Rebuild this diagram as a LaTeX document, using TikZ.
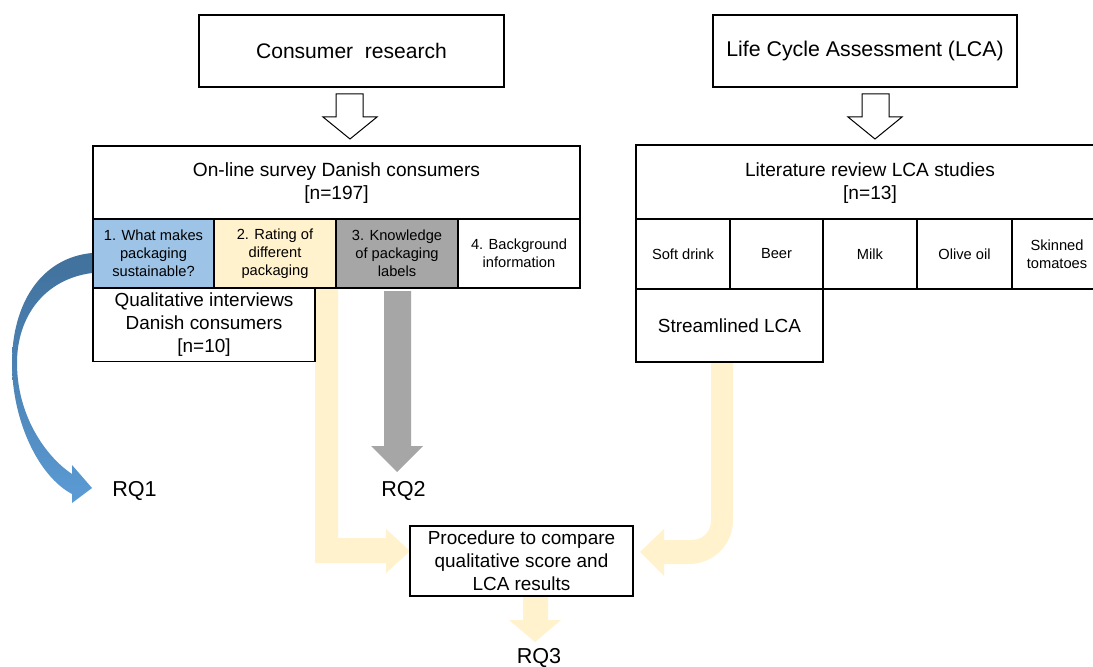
\documentclass[tikz,border=0pt]{standalone}
\usepackage{fontspec}
\setmainfont{Liberation Sans}
\usetikzlibrary{calc}
\definecolor{cellblue}{HTML}{9DC3E6}
\definecolor{cellyel}{HTML}{FFF2CC}
\definecolor{cellgray}{HTML}{A6A6A6}
\definecolor{arrdark}{HTML}{41719C}
\definecolor{arrlight}{HTML}{5B9BD5}
\tikzset{
  bx/.style={draw=black, line width=0.9pt, fill=white, inner sep=0pt, align=center},
  fbig/.style={font=\fontsize{15.8}{19}\selectfont},
  flca/.style={font=\fontsize{16}{19}\selectfont},
  fmid/.style={font=\fontsize{14.35}{17}\selectfont},
  fint/.style={font=\fontsize{14.2}{17.25}\selectfont},
  fsml/.style={font=\fontsize{11}{13.5}\selectfont},
  yelarrow/.style={fill=cellyel, draw=none},
  grayarrow/.style={fill=cellgray, draw=none},
  hollowarrow/.style={draw=black, line width=0.75pt, fill=white},
  rqlabel/.style={inner sep=0pt, font=\fontsize{16.2}{18}\selectfont},
}
\begin{document}
\begin{tikzpicture}[x=0.75pt,y=-0.75pt]
\useasboundingbox (0,0) rectangle (1093,667);
\fill[white] (0,0) rectangle (1093,667);

% ---------- yellow and gray block arrows (behind boxes)
\fill[yelarrow] (315,289) -- (315,563) -- (386,563) -- (386,573) -- (410,551)
  -- (386,529) -- (386,538) -- (338,538) -- (338,289) -- cycle;
\fill[yelarrow] (711,362) -- (711,520) .. controls (711,532) and (703,540) .. (691,540)
  -- (664,540) -- (664,529) -- (640,552) -- (664,576) -- (664,564) -- (689,564)
  .. controls (713,564) and (733,545) .. (733,520) -- (733,362) -- cycle;
\fill[yelarrow] (523,597) -- (523,620) -- (509,620) -- (535,642) -- (561,620)
  -- (548,620) -- (548,597) -- cycle;
\fill[grayarrow] (384,291) -- (384,446) -- (371,446) -- (397,472) -- (423,446)
  -- (411,446) -- (411,291) -- cycle;

% ---------- top boxes
\node[bx, fbig, minimum width=228.75pt, minimum height=54pt] (cons) at (351.5,51) {Consumer\ \ research};
\node[bx, flca, minimum width=228pt, minimum height=54pt] (lca) at (865,51) {Life Cycle Assessment\ (LCA)};

% hollow arrows
\draw[hollowarrow] (336,94) -- (363,94) -- (363,117) -- (377,117) -- (350,139)
  -- (323,117) -- (336,117) -- cycle;
\draw[hollowarrow] (862,94) -- (889,94) -- (889,117) -- (902,117) -- (875,139)
  -- (848,117) -- (862,117) -- cycle;

% ---------- survey block
\node[bx, fmid, minimum width=365.25pt, minimum height=55.5pt] (surv) at (336.5,183)
  {On-line survey\ Danish consumers\\{}[n=197]};
\node[bx, fsml, fill=cellblue, minimum width=90.75pt, minimum height=51.75pt] (c1) at (153.5,253.5)
  {1. What makes\\packaging\\sustainable?};
\node[bx, fsml, fill=cellyel, minimum width=91.5pt, minimum height=51.75pt] (c2) at (275,253.5)
  {2. Rating of\\different\\packaging};
\node[bx, fsml, fill=cellgray, minimum width=91.5pt, minimum height=51.75pt] (c3) at (397,253.5)
  {3. Knowledge\\of packaging\\labels};
\node[bx, fsml, minimum width=91.5pt, minimum height=51.75pt] (c4) at (519,253.5)
  {4. Background\\information};
\node[bx, fint, minimum width=166.5pt, minimum height=54.75pt] (qual) at (204,325)
  {Qualitative interviews\\Danish consumers\\{}[n=10]};

% ---------- literature block (cut at the right page edge)
\draw[line width=0.9pt, fill=white] (1094,145) -- (636,145) -- (636,289) -- (1094,289);
\draw[line width=0.9pt] (636,219) -- (1094,219);
\node[fmid, align=center, inner sep=0pt] (lit) at (870,183) {Literature review LCA studies\\{}[n=13]};
\node[bx, fsml, minimum width=70.5pt, minimum height=52.5pt] (l1) at (683,254) {Soft drink};
\node[bx, fsml, minimum width=69.75pt, minimum height=52.5pt] (l2) at (776.5,254) {Beer};
\node[bx, fsml, minimum width=70.5pt, minimum height=52.5pt] (l3) at (870,254) {Milk};
\node[bx, fsml, minimum width=71.25pt, minimum height=52.5pt] (l4) at (964.5,254) {Olive oil};
\node[fsml, align=center, inner sep=0pt] (l5) at (1057,254) {Skinned\\tomatoes};
\node[bx, fint, minimum width=140.25pt, minimum height=54.75pt] (strm) at (729.5,325.5) {Streamlined LCA};

% ---------- procedure box
\node[bx, fint, minimum width=167.25pt, minimum height=52.5pt] (proc) at (521.5,561)
  {Procedure to compare\\qualitative score and\\LCA results};

% ---------- blue curved arrow
\shade[top color=arrdark, bottom color=arrlight, middle color=arrdark!55!arrlight]
  (92,253) .. controls (40,258) and (12,305) .. (12,363)
  .. controls (12,420) and (38,476) .. (72,494)
  -- (72,503) -- (92,488) -- (72,465) -- (72,474)
  .. controls (45,456) and (17,415) .. (17,363)
  .. controls (17,316) and (45,279) .. (92,273) -- cycle;

% ---------- labels
\node[rqlabel] (rq1) at (134.5,491) {RQ1};
\node[rqlabel] (rq2) at (403.5,491) {RQ2};
\node[rqlabel] (rq3) at (539,658) {RQ3};
\end{tikzpicture}
\end{document}
